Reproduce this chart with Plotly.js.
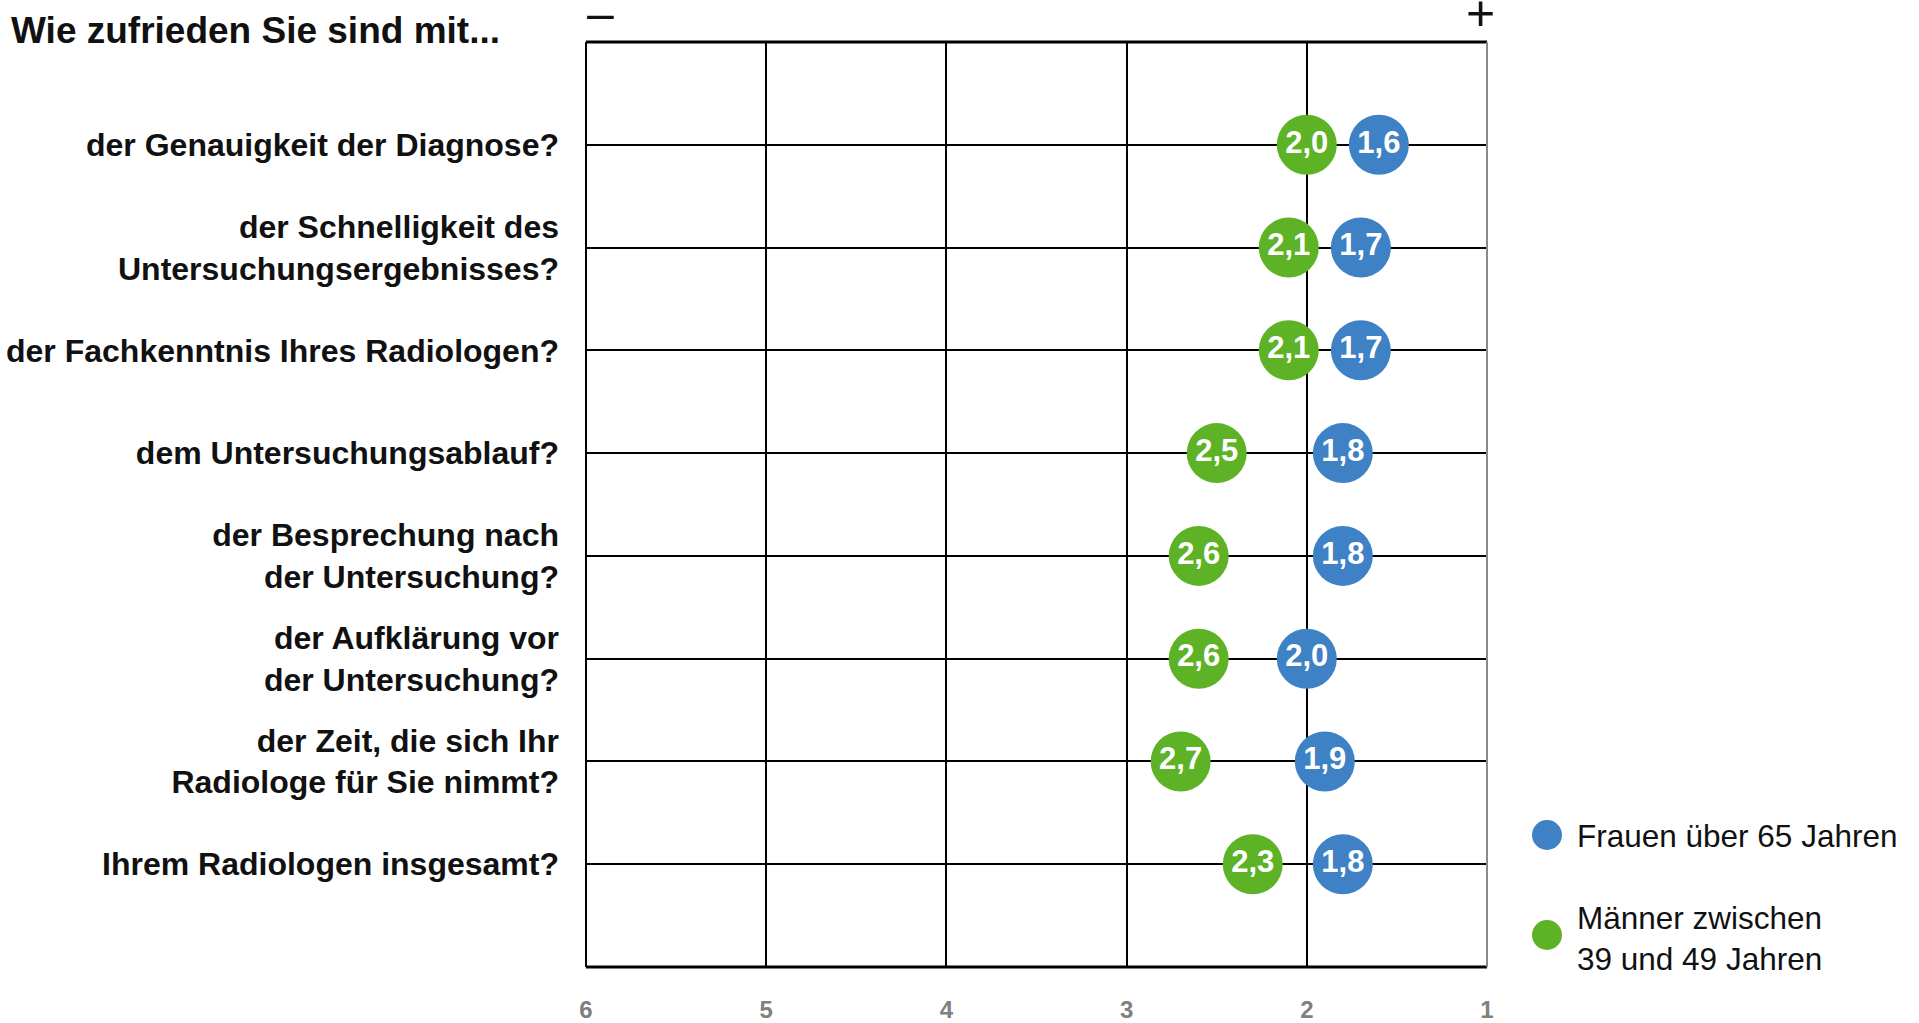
<!DOCTYPE html>
<html>
<head>
<meta charset="utf-8">
<script src="https://cdn.plot.ly/plotly-3.0.1.min.js"></script>
<style>
html,body{margin:0;padding:0;background:#fff;}
#chart{width:1919px;height:1023px;}
</style>
</head>
<body>
<div id="chart"></div>
<script>
const categories = [
  "der Genauigkeit der Diagnose?",
  "der Schnelligkeit des<br>Untersuchungsergebnisses?",
  "der Fachkenntnis Ihres Radiologen?",
  "dem Untersuchungsablauf?",
  "der Besprechung nach<br>der Untersuchung?",
  "der Aufklärung vor<br>der Untersuchung?",
  "der Zeit, die sich Ihr<br>Radiologe für Sie nimmt?",
  "Ihrem Radiologen insgesamt?"
];
const frauen = [1.6, 1.7, 1.7, 1.8, 1.8, 2.0, 1.9, 1.8];
const maenner = [2.0, 2.1, 2.1, 2.5, 2.6, 2.6, 2.7, 2.3];
const seriesNames = ["Frauen über 65 Jahren", "Männer zwischen<br>39 und 49 Jahren"];
const seriesColors = ["#3e81c4", "#5db226"];
const xTickVals = [6, 5, 4, 3, 2, 1];
const xTickText = ["6", "5", "4", "3", "2", "1"];
const titleText = "Wie zufrieden Sie sind mit...";

const FONT = "'Liberation Sans', Arial, sans-serif";

function bubbleTrace(vals, name, color) {
  return {
    type: "scatter",
    mode: "markers+text",
    x: vals,
    y: categories,
    name: name,
    marker: {size: 60, color: color, line: {width: 0}},
    texttemplate: "%{x:.1f}",
    textposition: "middle center",
    textfont: {family: FONT, size: 31, color: "#ffffff", weight: "bold"},
    hoverinfo: "skip",
    cliponaxis: false,
    showlegend: false
  };
}

const traces = [
  bubbleTrace(maenner, seriesNames[1], seriesColors[1]),
  bubbleTrace(frauen, seriesNames[0], seriesColors[0])
];

const layout = {
  width: 1919,
  height: 1023,
  paper_bgcolor: "#ffffff",
  plot_bgcolor: "#ffffff",
  separators: ",.",
  margin: {l: 586, r: 432, t: 42, b: 56, pad: 0},
  showlegend: false,
  title: {
    text: "<b>" + titleText + "</b>",
    x: 11 / 1919, xanchor: "left", xref: "container",
    y: 1 - 30 / 1023, yanchor: "middle", yref: "container",
    font: {family: FONT, size: 37, color: "#111111"}
  },
  xaxis: {
    range: [6, 1],
    autorange: false,
    tickvals: xTickVals,
    ticktext: xTickText,
    showgrid: true,
    gridcolor: "#000000",
    gridwidth: 2,
    zeroline: false,
    showline: false,
    ticks: "",
    ticklabelstandoff: 26,
    tickfont: {family: FONT, size: 24, color: "#808080", weight: "bold"},
    fixedrange: true
  },
  yaxis: {
    type: "category",
    range: [8, -1],
    autorange: false,
    showgrid: true,
    gridcolor: "#000000",
    gridwidth: 2,
    zeroline: false,
    showline: false,
    ticks: "",
    ticklabelstandoff: 26,
    tickfont: {family: FONT, size: 32, color: "#111111", weight: "bold"},
    fixedrange: true
  },
  shapes: [
    {type: "line", xref: "paper", yref: "paper", x0: 0, x1: 1, y0: 1, y1: 1, line: {color: "#000", width: 3}},
    {type: "line", xref: "paper", yref: "paper", x0: 0, x1: 1, y0: 0, y1: 0, line: {color: "#000", width: 3}},
    {type: "line", xref: "paper", yref: "paper", x0: 0, x1: 0, y0: 0, y1: 1, line: {color: "#000", width: 2}},
    {type: "line", xref: "paper", yref: "paper", x0: 1, x1: 1, y0: 0, y1: 1, line: {color: "#8a8a8a", width: 2}},
    {type: "circle", xref: "paper", yref: "paper", xsizemode: "pixel", ysizemode: "pixel",
     xanchor: (1547 - 586) / 901, yanchor: 1 - (835 - 42) / 925,
     x0: -15, x1: 15, y0: -15, y1: 15, fillcolor: seriesColors[0], line: {width: 0}},
    {type: "circle", xref: "paper", yref: "paper", xsizemode: "pixel", ysizemode: "pixel",
     xanchor: (1547 - 586) / 901, yanchor: 1 - (935 - 42) / 925,
     x0: -15, x1: 15, y0: -15, y1: 15, fillcolor: seriesColors[1], line: {width: 0}}
  ],
  annotations: [
    {xref: "paper", yref: "paper", x: (1575 - 586) / 901, y: 1 - (836 - 42) / 925,
     xanchor: "left", yanchor: "middle", align: "left", showarrow: false,
     text: seriesNames[0], font: {family: FONT, size: 31.5, color: "#111111"}},
    {xref: "paper", yref: "paper", x: (1575 - 586) / 901, y: 1 - (938 - 42) / 925,
     xanchor: "left", yanchor: "middle", align: "left", showarrow: false,
     text: seriesNames[1], font: {family: FONT, size: 31.5, color: "#111111"}},
    {xref: "paper", yref: "paper", x: (600 - 586) / 901, y: 1 + (42 - 13) / 925,
     xanchor: "center", yanchor: "middle", showarrow: false,
     text: "–", font: {family: FONT, size: 48, color: "#111111"}},
    {xref: "paper", yref: "paper", x: (1480 - 586) / 901, y: 1 + (42 - 13) / 925,
     xanchor: "center", yanchor: "middle", showarrow: false,
     text: "+", font: {family: FONT, size: 50, color: "#111111"}}
  ]
};

Plotly.newPlot("chart", traces, layout, {displayModeBar: false, staticPlot: true});
</script>
</body>
</html>
